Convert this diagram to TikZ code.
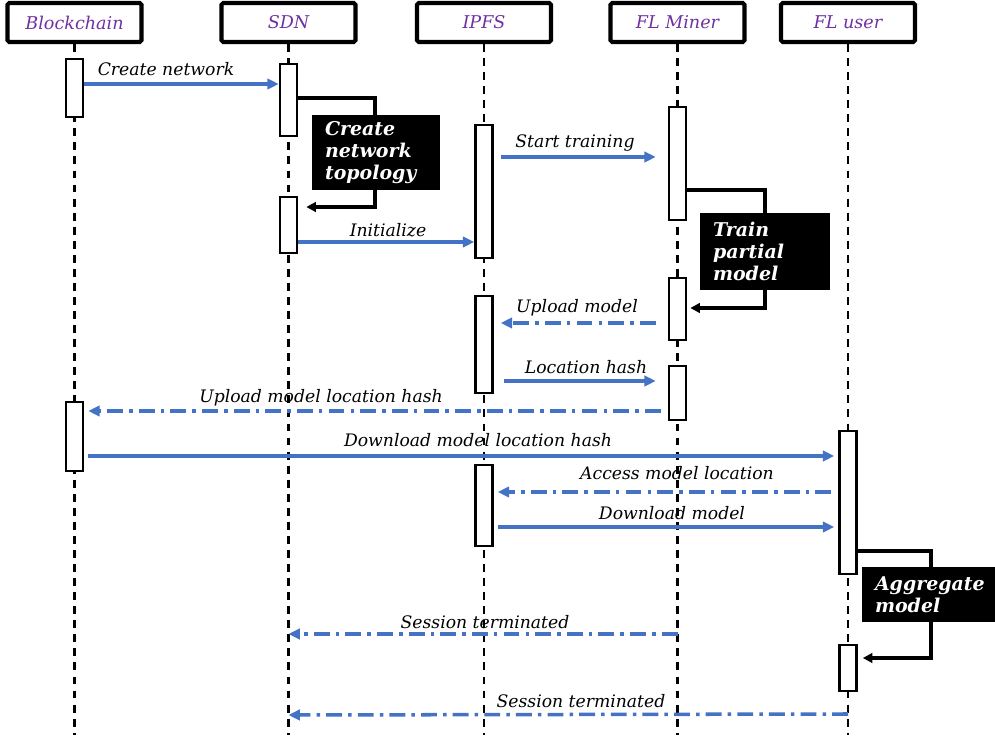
\documentclass[tikz,border=0pt]{standalone}
\usepackage{fontspec}
\setmainfont{DejaVu Serif}
\usetikzlibrary{arrows.meta}
\definecolor{headpurple}{RGB}{112,48,160}
\definecolor{msgblue}{RGB}{68,114,196}
\tikzset{
head/.style={ % Sets the properties for each participant
draw, line width=2.3pt, rounded corners=1pt,
minimum width=2.68cm, minimum height=0.78cm,
font=\itshape\fontsize{10}{12}\selectfont, text=headpurple},
lifeline/.style={line width=1.6pt, dash pattern=on 4.5pt off 3.5pt},
act/.style={draw, fill=white, line width=1.5pt, minimum width=0.34cm, inner sep=0pt},
msg/.style={ % Sets the properties for each call
draw=msgblue, line width=2pt, -{Triangle[length=6.5pt,width=6pt]}},
reply/.style={msg, dash pattern=on 9pt off 3.5pt on 2pt off 3.5pt},
lbl/.style={font=\itshape\fontsize{9.8}{11}\selectfont, inner sep=0pt},
selfmsg/.style={draw, line width=1.9pt, -{Triangle[length=5.5pt,width=5.5pt]}},
note/.style={fill=black, text=white, align=left, inner xsep=0.26cm, inner ysep=0pt,
font=\bfseries\itshape\fontsize{10.8}{12.5}\selectfont}}

\begin{document}
\begin{tikzpicture}[x=0.02cm, y=-0.02cm]
\useasboundingbox (0,0) rectangle (995,739);
% participants
\node[head] (bc) at (74.5,22.5) {Blockchain};
\node[head] (sdn) at (288.5,22.5) {SDN};
\node[head] (ipfs) at (484,22.5) {IPFS};
\node[head] (miner) at (677.5,22.5) {FL Miner};
\node[head] (user) at (848,22.5) {FL user};
% lifelines
\foreach \p in {bc,sdn,ipfs,miner,user}
  \draw[lifeline] (\p.south) -- (\p.south |- 0,735);
% activations
\node[act, minimum height=1.16cm] (bc1) at (74.5,88) {};
\node[act, minimum height=1.38cm] (bc2) at (74.5,436.5) {};
\node[act, minimum height=1.44cm] (sdn1) at (288.5,100) {};
\node[act, minimum height=1.12cm] (sdn2) at (288.5,225) {};
\node[act, minimum height=2.66cm] (ipfs1) at (484,191.5) {};
\node[act, minimum height=1.94cm] (ipfs2) at (484,344.5) {};
\node[act, minimum height=1.62cm] (ipfs3) at (484,505.5) {};
\node[act, minimum height=2.26cm] (min1) at (677.5,163.5) {};
\node[act, minimum height=1.24cm] (min2) at (677.5,309) {};
\node[act, minimum height=1.08cm] (min3) at (677.5,393) {};
\node[act, minimum height=2.86cm] (usr1) at (848,502.5) {};
\node[act, minimum height=0.92cm] (usr2) at (848,668) {};

% self calls
\draw[selfmsg] (sdn1.east |- 0,98) -- (375,98) |- ([xshift=0.16cm]sdn2.east |- 0,207);
\draw[selfmsg] (min1.east |- 0,190) -- (765,190) |- ([xshift=0.06cm]min2.east |- 0,308);
\draw[selfmsg] (usr1.east |- 0,551) -- (931,551) |- ([xshift=0.1cm]usr2.east |- 0,658);
\node[note, text width=2.04cm, minimum height=1.5cm] (topo) at (376,152.5) {Create\\network\\topology};
\node[note, text width=2.08cm, minimum height=1.54cm] (train) at (765,251.5) {Train\\partial\\model};
\node[note, text width=2.14cm, minimum height=1.1cm] (aggr) at (928.5,594.5) {Aggregate\\model};

% messages
\draw[msg] (bc1.east |- 0,84) -- (sdn1.west |- 0,84);
\node[lbl] (l1) at (166,69) {Create network};
\draw[msg] ([xshift=0.14cm]ipfs1.east |- 0,157) -- ([xshift=-0.24cm]min1.west |- 0,157);
\node[lbl] (l2) at (575,143) {Start training};
\draw[msg] (sdn2.east |- 0,242) -- (ipfs1.west |- 0,242);
\node[lbl] (l3) at (388,230) {Initialize};
\draw[reply] ([xshift=-0.24cm]min2.west |- 0,323) -- ([xshift=0.14cm]ipfs2.east |- 0,323);
\node[lbl] (l4) at (577,308) {Upload model};
\draw[msg] ([xshift=0.2cm]ipfs2.east |- 0,381) -- ([xshift=-0.24cm]min3.west |- 0,381);
\node[lbl] (l5) at (586,367) {Location hash};
\draw[reply] ([xshift=-0.14cm]min3.west |- 0,411) -- ([xshift=0.08cm]bc2.east |- 0,411);
\node[lbl] (l6) at (321,398) {Upload model location hash};
\draw[msg] ([xshift=0.08cm]bc2.east |- 0,456) -- ([xshift=-0.08cm]usr1.west |- 0,456);
\node[lbl] (l7) at (478,440) {Download model location hash};
\draw[reply] ([xshift=-0.14cm]usr1.west |- 0,492) -- ([xshift=0.08cm]ipfs3.east |- 0,492);
\node[lbl] (l8) at (677,473) {Access model location};
\draw[msg] ([xshift=0.08cm]ipfs3.east |- 0,527) -- ([xshift=-0.08cm]usr1.west |- 0,527);
\node[lbl] (l9) at (672,513) {Download model};
\draw[reply] (miner.south |- 0,634) -- (sdn.south |- 0,634);
\node[lbl] (l10) at (485,622) {Session terminated};
\draw[reply] (user.south |- 0,714) -- (sdn.south |- 0,715);
\node[lbl] (l11) at (581,701) {Session terminated};
\end{tikzpicture}
\end{document}
